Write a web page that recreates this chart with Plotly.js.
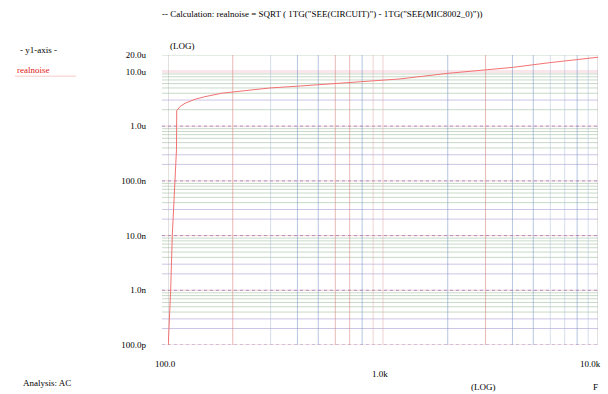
<!DOCTYPE html>
<html>
<head>
<meta charset="utf-8">
<script src="https://cdn.plot.ly/plotly-3.0.1.min.js"></script>
<style>html,body{margin:0;padding:0;background:#fff;}#chart{width:608px;height:394px;}</style>
</head>
<body>
<div id="chart"></div>
<script>
// ---- data ----
var freq = [100.3, 102.9, 104.7, 107.8, 109.5, 109.8, 114, 120, 133.5, 148.5, 177.7, 205, 298, 411, 566, 808, 1035, 1200, 2005, 4030, 5970, 10000];
var realnoise = [1.0e-10, 1.0e-9, 1.0e-8, 1.0e-7, 3.7e-7, 1.92e-6, 2.3e-6, 2.62e-6, 3.1e-6, 3.46e-6, 4.0e-6, 4.26e-6, 4.99e-6, 5.42e-6, 5.9e-6, 6.5e-6, 6.98e-6, 7.3e-6, 9.25e-6, 11.9e-6, 14.5e-6, 18.2e-6];

var yTickVals = [1e-10, 1e-9, 1e-8, 1e-7, 1e-6, 1e-5, 2e-5];
var yTickText = ["100.0p", "1.0n", "10.0n", "100.0n", "1.0u", "10.0u", "20.0u"];
var xTickVals = [100, 1000, 10000];
var xTickText = ["100.0", "1.0k", "10.0k"];

// grid lines (log positions) grouped by colour
var xGridRed = [200, 600, 700, 3000];
var xGridPink = [900, 1000];
var xGridBlue = [400, 500, 800, 2000, 4000, 5000, 8000];
var xGridLightBlue = [300, 6000, 7000, 9000];
var xGridGray = [100, 10000];
var yGridDecade = [1e-10, 1e-9, 1e-8, 1e-7, 1e-6];
var yGridPurple = [2e-10, 3e-10, 2e-9, 3e-9, 2e-8, 3e-8, 2e-7, 3e-7, 3e-6];
var yGridGreen = [4e-10,5e-10,6e-10,7e-10,8e-10,9e-10, 4e-9,5e-9,6e-9,7e-9,8e-9,9e-9, 4e-8,5e-8,6e-8,7e-8,8e-8,9e-8, 4e-7,5e-7,6e-7,7e-7,8e-7,9e-7, 2e-6,4e-6,5e-6,6e-6,7e-6,8e-6,9e-6, 2e-5];
var yGridPink = [1e-5];

var shapes = [];
function vlines(arr, color, w) {
  arr.forEach(function (v) {
    shapes.push({type: 'line', layer: 'below', xref: 'x', yref: 'paper', x0: v, x1: v, y0: 0, y1: 1,
      line: {color: color, width: w}});
  });
}
function hlines(arr, color, w, dash) {
  arr.forEach(function (v) {
    shapes.push({type: 'line', layer: 'below', xref: 'paper', yref: 'y', x0: -0.014, x1: 1, y0: v, y1: v,
      line: {color: color, width: w, dash: dash || 'solid'}});
  });
}
hlines(yGridPink, 'rgba(240,200,210,0.45)', 3);
hlines(yGridGreen, 'rgba(130,170,130,0.45)', 1);
hlines(yGridPurple, 'rgba(160,140,210,0.5)', 1);
hlines(yGridDecade, 'rgba(120,110,200,0.7)', 1, 'dot');
hlines(yGridDecade, 'rgba(220,120,130,0.35)', 1);
vlines(xGridRed, 'rgba(215,130,120,0.55)', 1);
vlines(xGridPink, 'rgba(225,170,170,0.5)', 1);
vlines(xGridBlue, 'rgba(120,150,200,0.55)', 1);
vlines(xGridLightBlue, 'rgba(170,190,220,0.5)', 1);
vlines(xGridGray, 'rgba(165,155,155,0.6)', 1);

var serif = '"Liberation Serif", "DejaVu Serif", serif';
var annotations = [];
xTickVals.forEach(function (v, i) {
  annotations.push({xref: 'x', yref: 'paper', x: Math.log10(v), y: (i === 1 ? -0.1 : -0.066),
    text: xTickText[i], showarrow: false, xanchor: (i === 2 ? 'right' : 'center'), yanchor: 'middle',
    xshift: (i === 0 ? -3 : (i === 1 ? -3 : 5)), font: {family: serif, size: 9, color: '#000'}});
});
annotations.push({xref: 'paper', yref: 'paper', x: 0.0, y: 1.0, text: '(LOG)', showarrow: false,
  xanchor: 'left', yanchor: 'bottom', yshift: 2, font: {family: serif, size: 9, color: '#000'}});
annotations.push({xref: 'paper', yref: 'paper', x: 0.70, y: -0.145, text: '(LOG)', showarrow: false,
  xanchor: 'left', yanchor: 'middle', font: {family: serif, size: 9, color: '#000'}});
annotations.push({xref: 'paper', yref: 'paper', x: 0.995, y: -0.145, text: 'F', showarrow: false,
  xanchor: 'center', yanchor: 'middle', font: {family: serif, size: 9, color: '#000'}});
annotations.push({xref: 'paper', yref: 'paper', x: -0.342, y: -0.13, text: 'Analysis: AC', showarrow: false,
  xanchor: 'left', yanchor: 'middle', font: {family: serif, size: 9, color: '#000'}});
annotations.push({xref: 'paper', yref: 'paper', x: -0.35, y: 1.018, text: '- y1-axis -', showarrow: false,
  xanchor: 'left', yanchor: 'middle', font: {family: serif, size: 9, color: '#000'}});
annotations.push({xref: 'paper', yref: 'paper', x: -0.356, y: 0.95, text: 'realnoise', showarrow: false,
  xanchor: 'left', yanchor: 'middle', font: {family: serif, size: 9, color: '#e02020'}});
shapes.push({type: 'line', xref: 'paper', yref: 'paper', x0: -0.356, x1: -0.214, y0: 0.927, y1: 0.927,
  line: {color: 'rgba(240,150,150,0.5)', width: 1}});

var trace = {
  x: freq, y: realnoise, type: 'scatter', mode: 'lines',
  line: {color: '#f27272', width: 1}, hoverinfo: 'skip', showlegend: false
};

var layout = {
  width: 608, height: 394,
  margin: {l: 168, r: 10, t: 55, b: 49},
  paper_bgcolor: '#fff', plot_bgcolor: '#fff',
  title: {text: '-- Calculation: realnoise = SQRT ( 1TG("SEE(CIRCUIT)") - 1TG("SEE(MIC8002_0)"))',
    font: {family: serif, size: 9, color: '#000'}, x: 0.53, xanchor: 'center', y: 0.965, yanchor: 'middle'},
  xaxis: {type: 'log', range: [2, 4], showgrid: false, zeroline: false, showline: false,
    tickvals: xTickVals, showticklabels: false, ticks: ''},
  yaxis: {type: 'log', range: [-10, Math.log10(2e-5)], showgrid: false, zeroline: false, showline: false,
    tickvals: yTickVals, ticktext: yTickText, ticks: '', ticklabelstandoff: 21,
    tickfont: {family: serif, size: 9, color: '#000'}},
  shapes: shapes,
  annotations: annotations,
  showlegend: false
};

Plotly.newPlot('chart', [trace], layout, {displayModeBar: false, staticPlot: true});
</script>
</body>
</html>
